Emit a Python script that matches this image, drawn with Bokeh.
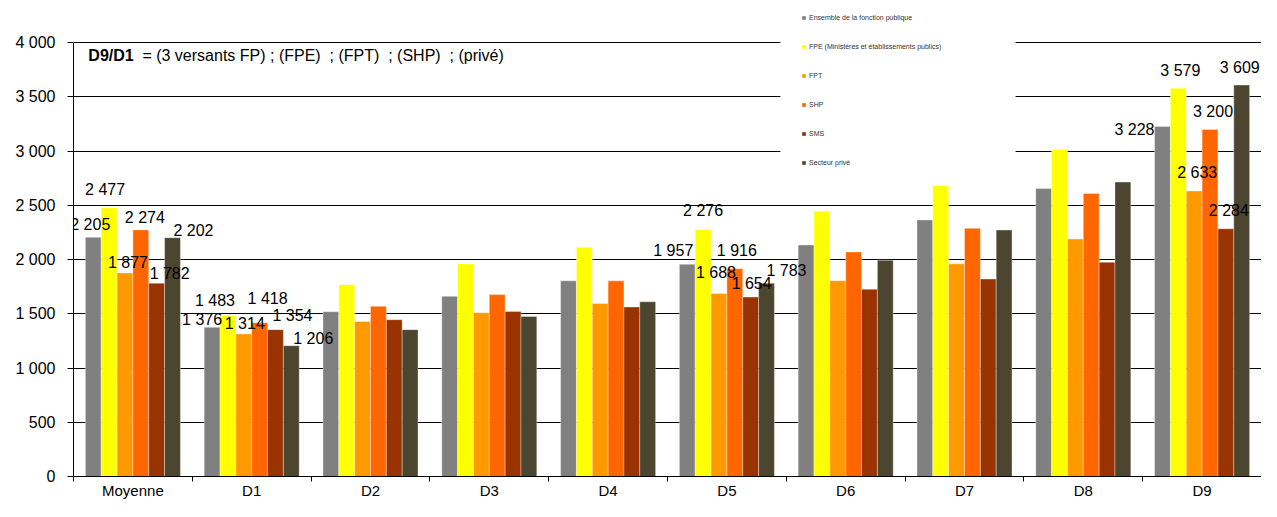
from bokeh.plotting import figure
from bokeh.models import (ColumnDataSource, FixedTicker, Range1d, LabelSet, Label,
                          Legend, LegendItem, BoxAnnotation)
from bokeh.core.properties import value
from bokeh.embed import file_html
from bokeh.resources import INLINE
import numpy as np

# ---------------- data ----------------
categories = ["Moyenne", "D1", "D2", "D3", "D4", "D5", "D6", "D7", "D8", "D9"]
series_names = ["Ensemble de la fonction publique",
                "FPE (Ministères et établissements publics)",
                "FPT", "SHP", "SMS", "Secteur privé"]
ensemble = [2205, 1376, 1520, 1661, 1804, 1957, 2134, 2366, 2655, 3228]
fpe      = [2477, 1483, 1768, 1960, 2113, 2276, 2445, 2682, 3015, 3579]
fpt      = [1877, 1314, 1429, 1510, 1595, 1688, 1806, 1961, 2190, 2633]
shp      = [2274, 1418, 1569, 1677, 1804, 1916, 2070, 2288, 2610, 3200]
sms      = [1782, 1354, 1446, 1521, 1563, 1654, 1727, 1821, 1975, 2284]
prive    = [2202, 1206, 1354, 1476, 1611, 1783, 1994, 2273, 2715, 3609]
labelled = ["Moyenne", "D1", "D5", "D9"]
y_ticks = [0, 500, 1000, 1500, 2000, 2500, 3000, 3500, 4000]
header_bold = "D9/D1"
header_rest = "=\u00a0(3 versants FP)\u00a0;\u00a0(FPE)\u00a0\u00a0;\u00a0(FPT)\u00a0\u00a0;\u00a0(SHP)\u00a0\u00a0;\u00a0(privé)"

# ---------------- style ----------------
colors = ["#808080", "#FFFF00", "#FF9900", "#FF6600", "#993300", "#4C4630"]
FONT = "Liberation Sans"
Y_TOP = 4389  # frame extends above 4000 to leave room for the legend
# manual label displacements (px, right / up) as in the source chart
label_dx = [[-3, -10, -14, -28], [-4, -13, 0, 2], [3, 1, -3, 3],
            [4, 8, 2, 3], [13, 17, 1, 3], [21, 22, 20, -2]]
label_dy = [[13, 8, 14, -3], [18, 15, 19, 18], [10, 10, 21, 18],
            [12, 24, 18, 18], [10, 14, 14, 18], [7, 7, 13, 18]]

all_series = [ensemble, fpe, fpt, shp, sms, prive]
n_cat = len(categories)
group_w = 0.8
bar_w = group_w / len(all_series)

p = figure(width=1261, height=501, output_backend="svg", toolbar_location=None,
           x_range=Range1d(0, n_cat), y_range=Range1d(0, Y_TOP),
           min_border_left=73, min_border_right=0, min_border_top=0, min_border_bottom=20)
p.outline_line_color = None
p.background_fill_color = "white"

def fmt(v):
    return f"{v:,}".replace(",", " ")

renderers = []
lab_x, lab_y, lab_t, lab_dx, lab_dy = [], [], [], [], []
for j, (vals, col) in enumerate(zip(all_series, colors)):
    xs = np.arange(n_cat) + 0.5 + (j - (len(all_series) - 1) / 2) * bar_w
    src = ColumnDataSource(dict(x=xs, top=vals))
    r = p.vbar(x="x", top="top", width=bar_w, source=src, fill_color=col,
               line_color="white", line_alpha=0.35, line_width=1)
    renderers.append(r)
    for k, c in enumerate(labelled):
        i = categories.index(c)
        lab_x.append(xs[i]); lab_y.append(vals[i]); lab_t.append(fmt(vals[i]))
        lab_dx.append(label_dx[j][k]); lab_dy.append(label_dy[j][k])

lsrc = ColumnDataSource(dict(x=lab_x, y=lab_y, t=lab_t, dx=lab_dx, dy=lab_dy))
p.add_layout(LabelSet(x="x", y="y", text="t", source=lsrc, x_offset="dx", y_offset="dy",
                      text_align="center", text_baseline="middle",
                      text_font=value(FONT), text_font_size=value("16px"),
                      text_color=value("black")))

# axes
p.yaxis.ticker = FixedTicker(ticks=y_ticks)
p.yaxis.bounds = (0, 4000)
p.yaxis.major_label_overrides = {t: fmt(t) for t in y_ticks}
p.yaxis.major_label_text_font = FONT
p.yaxis.major_label_text_font_size = "16px"
p.yaxis.major_label_text_color = "black"
p.yaxis.major_tick_out = 6
p.yaxis.major_tick_in = 0
p.yaxis.minor_tick_line_color = None
p.yaxis.axis_line_color = "black"
p.yaxis.major_tick_line_color = "black"
p.yaxis.major_label_standoff = 12

centers = [i + 0.5 for i in range(n_cat)]
p.xaxis.ticker = FixedTicker(ticks=centers, minor_ticks=list(range(n_cat + 1)))
p.xaxis.major_label_overrides = {c: cat for c, cat in zip(centers, categories)}
p.xaxis.major_label_text_font = FONT
p.xaxis.major_label_text_font_size = "15px"
p.xaxis.major_label_text_color = "black"
p.xaxis.major_tick_out = 0
p.xaxis.major_tick_in = 0
p.xaxis.minor_tick_out = 5
p.xaxis.minor_tick_in = 0
p.xaxis.minor_tick_line_color = "black"
p.xaxis.axis_line_color = "black"
p.xaxis.major_label_standoff = 0

p.xgrid.grid_line_color = None
p.ygrid.ticker = FixedTicker(ticks=y_ticks[1:])
p.ygrid.grid_line_color = "black"
p.ygrid.grid_line_width = 1

# white area behind the legend (hides grid lines there)
p.add_layout(BoxAnnotation(left=5.95, right=7.93, bottom=2700, top=Y_TOP,
                           fill_color="white", fill_alpha=1, line_color=None))

# header text
p.add_layout(Label(x=0.125, y=3880, text=header_bold, text_font=FONT, text_font_size="16px",
                   text_font_style="bold", text_baseline="middle", text_color="black"))
p.add_layout(Label(x=0.58, y=3880, text=header_rest,
                   text_font=FONT, text_font_size="16px", text_baseline="middle",
                   text_color="black"))

legend = Legend(items=[LegendItem(label=n, renderers=[r]) for n, r in zip(series_names, renderers)],
                location=(728, 310), orientation="vertical",
                label_text_font=FONT, label_text_font_size="7px", label_text_color="#333333",
                glyph_width=5, glyph_height=5, label_height=8, spacing=21, padding=6,
                label_standoff=3, background_fill_alpha=0, border_line_color=None)
p.add_layout(legend)

open("out.html", "w").write(file_html(p, INLINE))
